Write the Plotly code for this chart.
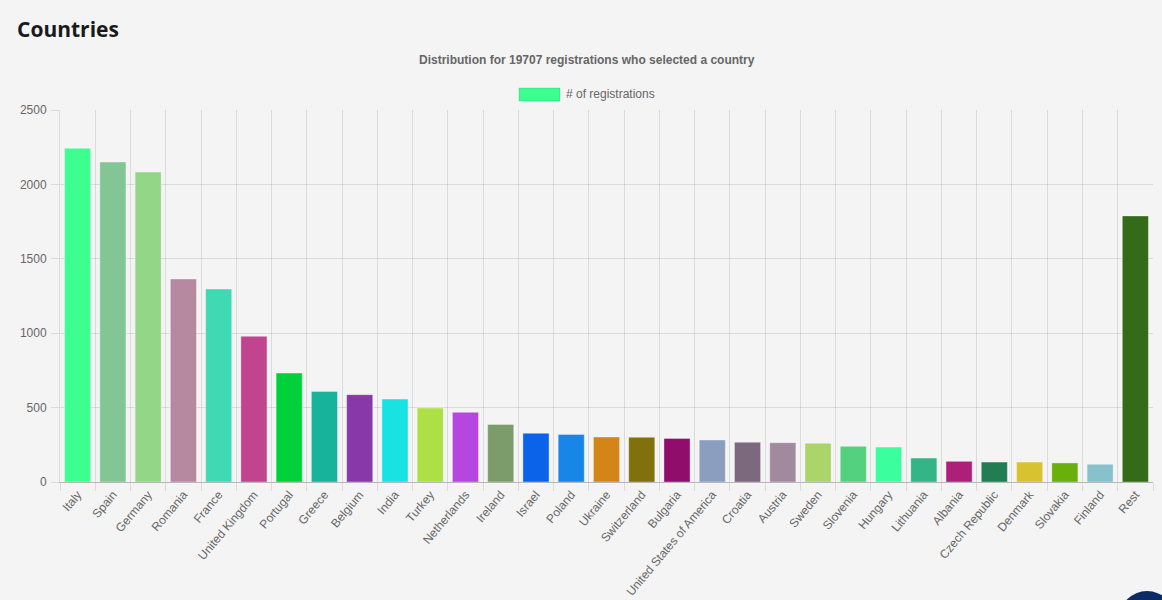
import plotly.graph_objects as go

countries = ["Italy", "Spain", "Germany", "Romania", "France", "United Kingdom", "Portugal",
             "Greece", "Belgium", "India", "Turkey", "Netherlands", "Ireland", "Israel", "Poland",
             "Ukraine", "Switzerland", "Bulgaria", "United States of America", "Croatia", "Austria",
             "Sweden", "Slovenia", "Hungary", "Lithuania", "Albania", "Czech Republic", "Denmark",
             "Slovakia", "Finland", "Rest"]
registrations = [2243, 2150, 2083, 1364, 1297, 979, 732, 609, 587, 557, 497, 468, 387, 327, 320,
                 302, 300, 293, 282, 267, 264, 260, 240, 235, 161, 139, 134, 134, 128, 119, 1788]
colors = ["#3dff8f", "#84c595", "#94d688", "#b689a0", "#3fd9b4", "#c0448e", "#00d13a",
          "#17b39a", "#8838a8", "#18e3e3", "#ade045", "#b646e0", "#7d9c6b", "#0a63e8", "#1886e8",
          "#d48518", "#80710d", "#910d6c", "#8c9ebf", "#7d697d", "#a1899e", "#abd46b", "#54d17f",
          "#3bff9f", "#33b587", "#ad1f78", "#237d52", "#d9c230", "#69b00a", "#87c2cc", "#346b18"]

title_text = "Countries"
subtitle_text = "Distribution for 19707 registrations who selected a country"
legend_text = "# of registrations"
y_ticks = [0, 500, 1000, 1500, 2000, 2500]

W, H = 1162, 600
ML, MR, MT, MB = 60, 9, 110, 118
PW, PH = W - ML - MR, H - MT - MB


def px(x):
    return (x - ML) / PW


def py(y):
    return (H - MB - y) / PH


BG = "#f4f4f4"
FONT = "Liberation Sans, Arial, Helvetica, sans-serif"

fig = go.Figure()
fig.add_trace(go.Bar(
    x=countries, y=registrations, name=legend_text,
    marker=dict(color=colors, line=dict(color="rgba(255,255,255,0.35)", width=1)),
    showlegend=False, hoverinfo="x+y",
))

fig.update_layout(
    width=W, height=H,
    margin=dict(l=ML, r=MR, t=MT, b=MB, pad=0),
    paper_bgcolor=BG, plot_bgcolor=BG,
    bargap=0.26,
    font=dict(family=FONT, size=12, color="#666"),
    xaxis=dict(
        type="category", tickson="boundaries", ticks="outside", ticklen=8,
        tickcolor="rgba(0,0,0,0.1)", showgrid=True, gridcolor="rgba(0,0,0,0.1)", gridwidth=1,
        showline=True, linecolor="rgba(0,0,0,0.25)", linewidth=1,
        tickangle=-50, tickfont=dict(family=FONT, size=12, color="#666"),
        zeroline=False, automargin=False,
    ),
    yaxis=dict(
        range=[0, 2500], tickvals=y_ticks, ticktext=[str(v) for v in y_ticks],
        ticks="outside", ticklen=8, tickcolor="rgba(0,0,0,0.1)",
        showgrid=True, gridcolor="rgba(0,0,0,0.1)", gridwidth=1,
        showline=True, linecolor="rgba(0,0,0,0.1)", linewidth=1,
        zeroline=False, tickfont=dict(family=FONT, size=12, color="#666"),
        ticklabelstandoff=2, automargin=False,
    ),
    shapes=[
        dict(type="rect", xref="paper", yref="paper",
             x0=px(519), x1=px(560), y0=py(101), y1=py(88),
             fillcolor="#3dff8f", line=dict(color="rgba(0,0,0,0.12)", width=1)),
        dict(type="circle", xref="paper", yref="paper",
             x0=px(1147 - 28), x1=px(1147 + 28), y0=py(591 + 56), y1=py(591),
             fillcolor="#0b2a66", line=dict(width=0)),
    ],
    annotations=[
        dict(text="<b>" + title_text + "</b>", xref="paper", yref="paper",
             x=px(15), y=py(29), xanchor="left", yanchor="middle", showarrow=False,
             font=dict(family="Open Sans, Noto Sans, sans-serif", size=21, color="#1a1a1a")),
        dict(text="<b>" + subtitle_text + "</b>", xref="paper", yref="paper",
             x=px(587), y=py(60), xanchor="center", yanchor="middle", showarrow=False,
             font=dict(family=FONT, size=12, color="#666")),
        dict(text=legend_text, xref="paper", yref="paper",
             x=px(564), y=py(94), xanchor="left", yanchor="middle", showarrow=False,
             font=dict(family=FONT, size=12, color="#666")),
    ],
)

fig.write_html("out.html")
